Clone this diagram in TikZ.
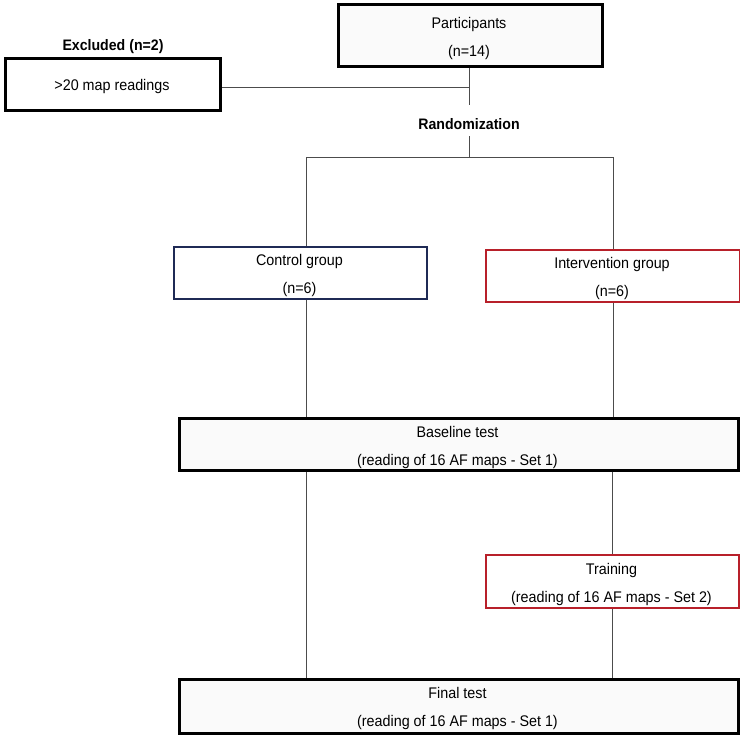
\documentclass[tikz,border=0pt]{standalone}
\usepackage{fontspec}
\setmainfont{Liberation Sans}[FakeStretch=0.93]
\definecolor{navy}{HTML}{1F2A55}
\definecolor{boxred}{HTML}{B8202A}
\begin{document}
\begin{tikzpicture}[x=1pt,y=-1pt,
  box/.style={draw=black, line width=2.6pt, fill=black!2, inner sep=0pt, anchor=north west},
  ctrlbox/.style={box, draw=navy, line width=2.2pt, fill=white},
  intbox/.style={box, draw=boxred, line width=2.4pt, fill=white},
  txt/.style={align=center, inner sep=0pt, font=\fontsize{15.4}{28}\selectfont},
  btxt/.style={txt, font=\fontsize{15.2}{28}\selectfont\bfseries},
  conn/.style={draw=black!70, line width=0.9pt}
]
\useasboundingbox (0,0) rectangle (740,740);

% boxes
\node[box, minimum width=264pt, minimum height=62pt] (part) at (337,3) {};
\node[box, fill=white, minimum width=215pt, minimum height=52pt] (excl) at (4,57) {};
\node[ctrlbox, minimum width=253pt, minimum height=52pt] (ctrl) at (173,246) {};
\node[intbox, minimum width=254pt, minimum height=52pt] (intv) at (485,249) {};
\node[box, minimum width=559pt, minimum height=52pt] (base) at (178,417) {};
\node[intbox, minimum width=253pt, minimum height=53pt] (train) at (485,554) {};
\node[box, minimum width=559pt, minimum height=54pt] (final) at (178,678) {};

% texts
\node[txt] (partT) at (469,38.5) {Participants\\(n=14)};
\node[btxt] (exclL) at (113,47) {Excluded (n=2)};
\node[txt] (exclT) at (112,87) {>20 map readings};
\node[btxt] (rand) at (469,124) {Randomization};
\node[txt] (ctrlT) at (299.5,276) {Control group\\(n=6)};
\node[txt] (intvT) at (612,278.5) {Intervention group\\(n=6)};
\node[txt] (baseT) at (457.5,447.5) {Baseline test\\(reading of 16 AF maps - Set 1)};
\node[txt] (trainT) at (611.5,584.5) {Training\\(reading of 16 AF maps - Set 2)};
\node[txt] (finalT) at (457.5,709) {Final test\\(reading of 16 AF maps - Set 1)};

% helper coordinates
\coordinate (j) at (469,87);
\coordinate (r1) at (469,105);
\coordinate (r2) at (469,136);
\coordinate (split) at (469,157);
\coordinate (cl) at (306,157);
\coordinate (cr) at (613,157);
\coordinate (xl) at (306,0);
\coordinate (xr) at (612,0);

% connectors
\draw[conn] (part.south -| j) -- (r1);
\draw[conn] (excl.east |- j) -- (j);
\draw[conn] (r2) -- (split);
\draw[conn] (cl) -- (cr);
\draw[conn] (cl) -- (ctrl.north -| cl);
\draw[conn] (cr) -- (intv.north -| cr);
\draw[conn] (ctrl.south -| cl) -- (base.north -| cl);
\draw[conn] (intv.south -| cr) -- (base.north -| cr);
\draw[conn] (base.south -| xl) -- (final.north -| xl);
\draw[conn] (base.south -| xr) -- (train.north -| xr);
\draw[conn] (train.south -| xr) -- (final.north -| xr);
\end{tikzpicture}
\end{document}
